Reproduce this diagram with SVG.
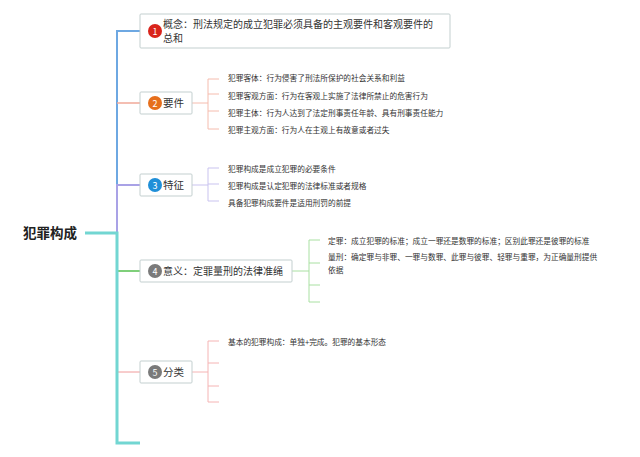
<svg xmlns="http://www.w3.org/2000/svg" width="640" height="457" viewBox="0 0 640 457">
<style>
text{font-family:"Noto Sans CJK SC","Noto Sans",sans-serif;fill:#333}
.box{fill:#fff;stroke:#c3cfcf;stroke-width:1}
.t{font-size:10px}
.s{font-size:7.7px}
.b{font-size:9px;fill:#fff;text-anchor:middle}
.ln{fill:none;stroke-linecap:butt}
</style>
<rect width="640" height="457" fill="#fff"/>
<g id="connectors">
  <path class="ln" d="M117 233 V31 H140" stroke="#6ea8e2" stroke-width="2"/>
  <path class="ln" d="M117 103 H140" stroke="#f0a898" stroke-width="1.5"/>
  <path class="ln" d="M117 233 V185 H140" stroke="#a9a2e6" stroke-width="2"/>
  <path class="ln" d="M117 271 H140" stroke="#7fcf7a" stroke-width="2"/>
  <path class="ln" d="M117 372 H140" stroke="#f09a9a" stroke-width="1"/>
  <path class="ln" d="M85 233 H117 V443 H140" stroke="#72d6d2" stroke-width="3"/>
  <path class="ln" d="M192 103 H208 M208 79 V129 M208 79 H219 M208 94 H219 M208 111 H219 M208 129 H219" stroke="#f5bcae" stroke-width="1"/>
  <path class="ln" d="M192 185 H208 M208 168 V201 M208 168 H219 M208 184 H219 M208 201 H219" stroke="#c9c3ef" stroke-width="1"/>
  <path class="ln" d="M292 271 H309 M309 240 V302 M309 240 H320 M309 263 H320 M309 285 H320 M309 302 H320" stroke="#a9e0a2" stroke-width="1"/>
  <path class="ln" d="M192 372 H208 M208 341 V402 M208 341 H219 M208 363 H219 M208 386 H219 M208 402 H219" stroke="#f5b4b4" stroke-width="1"/>
</g>
<g id="root">
  <text x="23" y="238" style="font-size:13.5px;font-weight:bold;fill:#222">犯罪构成</text>
</g>
<g id="n1">
  <rect class="box" x="140" y="14" width="310" height="34" rx="1"/>
  <circle cx="155" cy="31" r="7" fill="#d9241b"/>
  <text class="b" x="155" y="34.5">1</text>
  <text class="t" x="163" y="28">概念：刑法规定的成立犯罪必须具备的主观要件和客观要件的</text>
  <text class="t" x="163" y="42">总和</text>
</g>
<g id="n2">
  <rect class="box" x="140" y="92" width="52" height="22" rx="1"/>
  <circle cx="155" cy="103" r="7" fill="#e66f1c"/>
  <text class="b" x="155" y="106.5">2</text>
  <text class="t" x="163" y="107" style="font-size:10.5px">要件</text>
  <text class="s" x="228" y="81">犯罪客体：行为侵害了刑法所保护的社会关系和利益</text>
  <text class="s" x="228" y="98.5">犯罪客观方面：行为在客观上实施了法律所禁止的危害行为</text>
  <text class="s" x="228" y="116">犯罪主体：行为人达到了法定刑事责任年龄、具有刑事责任能力</text>
  <text class="s" x="228" y="133">犯罪主观方面：行为人在主观上有故意或者过失</text>
</g>
<g id="n3">
  <rect class="box" x="140" y="174" width="52" height="22" rx="1"/>
  <circle cx="155" cy="185" r="7" fill="#1f8fd8"/>
  <text class="b" x="155" y="188.5">3</text>
  <text class="t" x="163" y="189" style="font-size:10.5px">特征</text>
  <text class="s" x="228" y="172">犯罪构成是成立犯罪的必要条件</text>
  <text class="s" x="228" y="189">犯罪构成是认定犯罪的法律标准或者规格</text>
  <text class="s" x="228" y="206">具备犯罪构成要件是适用刑罚的前提</text>
</g>
<g id="n4">
  <rect class="box" x="140" y="260" width="152" height="22" rx="1"/>
  <circle cx="155" cy="271" r="7" fill="#7a7a7a"/>
  <text class="b" x="155" y="274.5">4</text>
  <text class="t" x="163" y="275">意义：定罪量刑的法律准绳</text>
  <text class="s" x="328" y="244">定罪：成立犯罪的标准；成立一罪还是数罪的标准；区别此罪还是彼罪的标准</text>
  <text class="s" x="328" y="260">量刑：确定罪与非罪、一罪与数罪、此罪与彼罪、轻罪与重罪，为正确量刑提供</text>
  <text class="s" x="328" y="273">依据</text>
</g>
<g id="n5">
  <rect class="box" x="140" y="361" width="52" height="22" rx="1"/>
  <circle cx="155" cy="372" r="7" fill="#7a7a7a"/>
  <text class="b" x="155" y="375.5">5</text>
  <text class="t" x="163" y="376" style="font-size:10.5px">分类</text>
  <text class="s" x="228" y="345">基本的犯罪构成：单独+完成。犯罪的基本形态</text>
</g>
</svg>
